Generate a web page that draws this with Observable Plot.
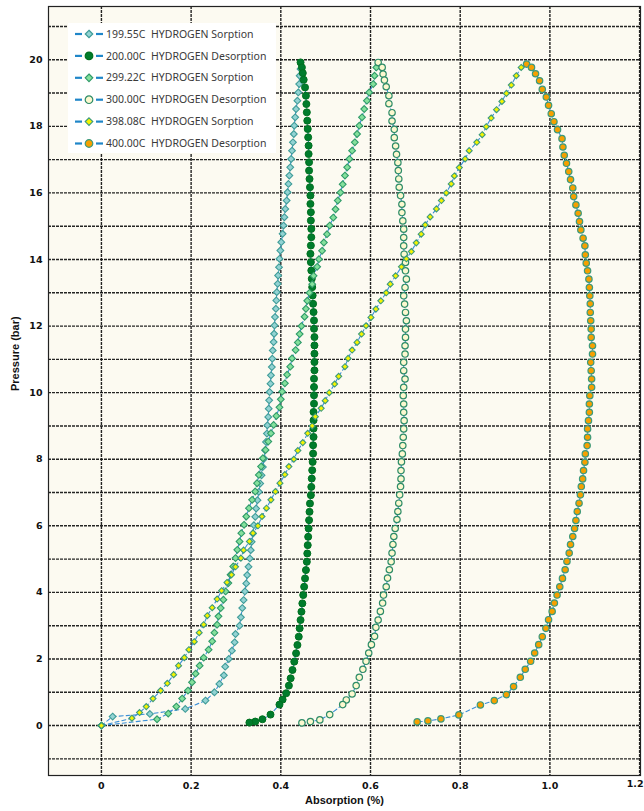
<!DOCTYPE html>
<html>
<head>
<meta charset="utf-8">
<script src="https://cdn.jsdelivr.net/npm/d3@7"></script>
<script src="https://cdn.jsdelivr.net/npm/@observablehq/plot@0.6"></script>
<style>
  html, body { margin: 0; padding: 0; background: #ffffff; }
  #chart { width: 644px; height: 811px; }
</style>
</head>
<body>
<div id="chart"></div>
<script>
// ---------- axis ticks ----------
const xTicks = [0, 0.2, 0.4, 0.6, 0.8, 1.0, 1.2];
const xTickLabels = ["0", "0.2", "0.4", "0.6", "0.8", "1.0", "1.2"];
const yTicks = [0, 2, 4, 6, 8, 10, 12, 14, 16, 18, 20];
const yGrid = [-1, 0, 1, 2, 3, 4, 5, 6, 7, 8, 9, 10, 11, 12, 13, 14, 15, 16, 17, 18, 19, 20, 21];
const xLabel = "Absorption (%)";
const yLabel = "Pressure (bar)";

// ---------- series names ----------
const seriesNames = [
  "199.55C  HYDROGEN Sorption",
  "200.00C  HYDROGEN Desorption",
  "299.22C  HYDROGEN Sorption",
  "300.00C  HYDROGEN Desorption",
  "398.08C  HYDROGEN Sorption",
  "400.00C  HYDROGEN Desorption"
];
const legendTemps = ["199.55C", "200.00C", "299.22C", "300.00C", "398.08C", "400.00C"];
const legendKinds = ["HYDROGEN Sorption", "HYDROGEN Desorption", "HYDROGEN Sorption", "HYDROGEN Desorption", "HYDROGEN Sorption", "HYDROGEN Desorption"];

// ---------- data: [absorption %, pressure bar] ----------
const sorp199 = [[0,0],[0.025,0.27],[0.108,0.35],[0.187,0.5],[0.232,0.75],[0.252,1.0],[0.263,1.25],[0.273,1.51],[0.276,1.77],[0.284,2.0],[0.291,2.25],[0.297,2.5],[0.299,2.75],[0.308,3.0],[0.311,3.25],[0.314,3.53],[0.317,3.77],[0.32,4.03],[0.323,4.27],[0.325,4.52],[0.328,4.77],[0.331,5.02],[0.333,5.27],[0.335,5.52],[0.338,5.77],[0.340,6.02],[0.343,6.27],[0.345,6.52],[0.348,6.77],[0.351,7.02],[0.354,7.27],[0.357,7.52],[0.360,7.77],[0.363,8.02],[0.365,8.27],[0.367,8.52],[0.369,8.77],[0.370,9.02],[0.372,9.27],[0.373,9.52],[0.374,9.77],[0.375,10.02],[0.377,10.27],[0.378,10.52],[0.380,10.77],[0.381,11.02],[0.382,11.27],[0.384,11.52],[0.385,11.77],[0.386,12.02],[0.387,12.27],[0.389,12.52],[0.390,12.77],[0.391,13.02],[0.393,13.27],[0.394,13.52],[0.396,13.77],[0.397,14.02],[0.399,14.27],[0.401,14.52],[0.404,14.77],[0.406,15.02],[0.408,15.27],[0.410,15.52],[0.413,15.77],[0.415,16.02],[0.417,16.27],[0.419,16.52],[0.421,16.77],[0.423,17.02],[0.425,17.27],[0.427,17.52],[0.429,17.77],[0.430,18.02],[0.432,18.27],[0.434,18.52],[0.437,18.77],[0.439,19.02],[0.441,19.27],[0.442,19.52],[0.444,19.72]];

const desorp200 = [[0.444,19.92],[0.447,19.77],[0.449,19.6],[0.451,19.4],[0.454,19.17],[0.456,18.92],[0.457,18.67],[0.458,18.42],[0.459,18.17],[0.460,17.92],[0.461,17.67],[0.462,17.42],[0.462,17.17],[0.463,16.92],[0.463,16.67],[0.464,16.42],[0.465,16.17],[0.466,15.92],[0.466,15.67],[0.467,15.42],[0.467,15.17],[0.468,14.92],[0.468,14.67],[0.467,14.42],[0.466,14.17],[0.467,13.92],[0.468,13.67],[0.469,13.42],[0.470,13.17],[0.471,12.92],[0.472,12.67],[0.473,12.42],[0.474,12.17],[0.474,11.92],[0.475,11.67],[0.475,11.42],[0.475,11.17],[0.475,10.92],[0.475,10.67],[0.474,10.42],[0.474,10.17],[0.474,9.92],[0.474,9.67],[0.473,9.42],[0.473,9.17],[0.473,8.92],[0.473,8.67],[0.472,8.42],[0.472,8.17],[0.471,7.92],[0.470,7.67],[0.469,7.42],[0.468,7.17],[0.467,6.92],[0.465,6.67],[0.464,6.42],[0.463,6.17],[0.462,5.92],[0.461,5.67],[0.460,5.42],[0.459,5.17],[0.458,4.92],[0.456,4.67],[0.454,4.42],[0.452,4.17],[0.450,3.92],[0.448,3.67],[0.446,3.42],[0.444,3.17],[0.442,2.92],[0.440,2.67],[0.437,2.42],[0.434,2.17],[0.430,1.92],[0.426,1.67],[0.422,1.42],[0.418,1.2],[0.412,0.97],[0.404,0.78],[0.397,0.63],[0.377,0.33],[0.359,0.19],[0.343,0.12],[0.330,0.09]];

const sorp299 = [[0,0],[0.124,0.19],[0.149,0.36],[0.167,0.57],[0.180,0.81],[0.193,1.05],[0.202,1.30],[0.210,1.56],[0.219,1.80],[0.228,2.04],[0.239,2.28],[0.247,2.53],[0.252,2.79],[0.258,3.03],[0.261,3.28],[0.266,3.53],[0.272,3.78],[0.277,4.03],[0.283,4.28],[0.288,4.53],[0.294,4.78],[0.299,5.03],[0.303,5.28],[0.308,5.53],[0.312,5.78],[0.318,6.03],[0.323,6.28],[0.329,6.53],[0.336,6.78],[0.343,7.03],[0.347,7.28],[0.351,7.53],[0.356,7.78],[0.360,8.03],[0.366,8.28],[0.372,8.53],[0.378,8.78],[0.384,9.03],[0.390,9.30],[0.397,9.56],[0.400,9.80],[0.403,10.03],[0.409,10.28],[0.414,10.54],[0.421,10.78],[0.425,11.03],[0.433,11.28],[0.438,11.51],[0.442,11.76],[0.446,12.00],[0.453,12.28],[0.456,12.52],[0.459,12.76],[0.464,13.00],[0.470,13.26],[0.473,13.51],[0.481,13.78],[0.485,14.01],[0.492,14.26],[0.496,14.51],[0.503,14.76],[0.509,15.02],[0.517,15.26],[0.522,15.51],[0.527,15.77],[0.533,16.01],[0.538,16.26],[0.543,16.52],[0.548,16.77],[0.553,17.02],[0.559,17.27],[0.565,17.52],[0.570,17.77],[0.575,18.02],[0.581,18.27],[0.586,18.52],[0.592,18.77],[0.597,19.02],[0.606,19.27],[0.609,19.52],[0.613,19.77]];

const desorp300 = [[0.617,19.92],[0.626,19.77],[0.628,19.57],[0.631,19.39],[0.635,19.19],[0.641,18.92],[0.641,18.68],[0.648,18.41],[0.648,18.16],[0.653,17.91],[0.653,17.66],[0.656,17.41],[0.658,17.16],[0.661,16.91],[0.662,16.67],[0.663,16.42],[0.664,16.17],[0.667,15.92],[0.670,15.66],[0.670,15.41],[0.672,15.16],[0.674,14.91],[0.674,14.66],[0.674,14.41],[0.675,14.16],[0.678,13.91],[0.678,13.66],[0.680,13.41],[0.677,13.16],[0.674,12.91],[0.676,12.66],[0.678,12.41],[0.680,12.16],[0.678,11.91],[0.678,11.66],[0.677,11.41],[0.677,11.16],[0.674,10.91],[0.674,10.66],[0.677,10.41],[0.674,10.16],[0.673,9.91],[0.674,9.66],[0.674,9.41],[0.675,9.16],[0.674,8.91],[0.673,8.66],[0.672,8.41],[0.671,8.16],[0.669,7.92],[0.668,7.66],[0.668,7.41],[0.667,7.18],[0.665,6.93],[0.663,6.68],[0.661,6.43],[0.659,6.19],[0.655,5.92],[0.652,5.68],[0.650,5.44],[0.648,5.18],[0.646,4.92],[0.642,4.68],[0.638,4.43],[0.635,4.17],[0.629,3.92],[0.627,3.68],[0.622,3.43],[0.617,3.17],[0.612,2.95],[0.609,2.68],[0.602,2.43],[0.596,2.18],[0.590,1.93],[0.583,1.69],[0.575,1.45],[0.568,1.20],[0.559,0.95],[0.546,0.77],[0.538,0.63],[0.509,0.33],[0.487,0.17],[0.466,0.12],[0.447,0.08]];

const sorp398 = [[0,0],[0.068,0.22],[0.085,0.39],[0.100,0.57],[0.115,0.81],[0.132,1.05],[0.147,1.27],[0.161,1.53],[0.172,1.80],[0.185,2.04],[0.195,2.28],[0.207,2.52],[0.218,2.79],[0.228,3.03],[0.236,3.30],[0.247,3.54],[0.258,3.80],[0.268,4.05],[0.280,4.30],[0.290,4.53],[0.299,4.77],[0.311,5.03],[0.317,5.27],[0.330,5.53],[0.338,5.78],[0.349,6.00],[0.358,6.28],[0.368,6.53],[0.378,6.78],[0.388,7.03],[0.398,7.28],[0.409,7.54],[0.418,7.78],[0.429,8.00],[0.438,8.26],[0.449,8.50],[0.460,8.78],[0.470,9.00],[0.477,9.28],[0.490,9.53],[0.499,9.76],[0.508,10.00],[0.520,10.26],[0.529,10.49],[0.543,10.78],[0.550,11.03],[0.559,11.28],[0.570,11.51],[0.580,11.76],[0.590,12.01],[0.601,12.26],[0.612,12.51],[0.623,12.76],[0.635,13.00],[0.644,13.26],[0.656,13.51],[0.669,13.78],[0.680,14.02],[0.691,14.24],[0.702,14.50],[0.713,14.76],[0.722,15.04],[0.733,15.28],[0.747,15.52],[0.758,15.77],[0.769,16.00],[0.780,16.27],[0.787,16.51],[0.798,16.76],[0.811,17.02],[0.820,17.27],[0.837,17.52],[0.849,17.75],[0.858,17.99],[0.869,18.25],[0.881,18.50],[0.893,18.75],[0.903,18.99],[0.914,19.24],[0.925,19.52],[0.936,19.77]];

const desorp400 = [[0.948,19.87],[0.959,19.77],[0.968,19.58],[0.977,19.37],[0.983,19.11],[0.992,18.88],[0.997,18.63],[1.003,18.38],[1.009,18.14],[1.017,17.90],[1.027,17.63],[1.029,17.38],[1.032,17.13],[1.037,16.89],[1.042,16.64],[1.046,16.40],[1.051,16.15],[1.053,15.89],[1.058,15.64],[1.063,15.39],[1.066,15.14],[1.069,14.89],[1.074,14.64],[1.078,14.41],[1.079,14.14],[1.081,13.89],[1.084,13.66],[1.087,13.41],[1.088,13.16],[1.089,12.91],[1.090,12.67],[1.090,12.41],[1.091,12.16],[1.092,11.91],[1.092,11.66],[1.095,11.41],[1.095,11.16],[1.091,10.91],[1.092,10.66],[1.093,10.41],[1.093,10.16],[1.089,9.91],[1.088,9.66],[1.088,9.41],[1.086,9.16],[1.084,8.91],[1.084,8.66],[1.083,8.41],[1.079,8.16],[1.078,7.91],[1.075,7.66],[1.073,7.41],[1.070,7.18],[1.068,6.93],[1.065,6.68],[1.061,6.43],[1.058,6.16],[1.055,5.92],[1.051,5.68],[1.046,5.44],[1.043,5.18],[1.038,4.93],[1.034,4.68],[1.028,4.42],[1.022,4.17],[1.016,3.92],[1.010,3.68],[1.005,3.43],[0.997,3.18],[0.991,2.92],[0.983,2.67],[0.975,2.43],[0.966,2.18],[0.957,1.93],[0.945,1.69],[0.934,1.45],[0.919,1.17],[0.903,0.93],[0.876,0.75],[0.845,0.62],[0.797,0.32],[0.757,0.20],[0.728,0.14],[0.704,0.11]];

const seriesData = [sorp199, desorp200, sorp299, desorp300, sorp398, desorp400];

// ---------- styles (separate from data) ----------
const diamondSym = {
  draw(ctx, size) {
    const h = Math.sqrt(size / 2);
    ctx.moveTo(0, -h); ctx.lineTo(h, 0); ctx.lineTo(0, h); ctx.lineTo(-h, 0); ctx.closePath();
  }
};
const styles = [
  {symbol: diamondSym, r: 2.7, fill: "#93d3d3", stroke: "#3f9c98", sw: 1.1},
  {symbol: "circle",   r: 3.5, fill: "#007c2c", stroke: "#00701f", sw: 1.0},
  {symbol: diamondSym, r: 2.7, fill: "#84e09c", stroke: "#2f9a68", sw: 1.1},
  {symbol: "circle",   r: 3.2, fill: "#fcf8cf", stroke: "#2e8c68", sw: 1.2},
  {symbol: diamondSym, r: 2.4, fill: "#f4f400", stroke: "#3c9a7c", sw: 1.1},
  {symbol: "circle",   r: 3.2, fill: "#f5a000", stroke: "#3d9a7c", sw: 1.2}
];

const rows = seriesData.flatMap((s, k) => s.map(([a, p]) => ({series: seriesNames[k], a, p})));

const gridStyle = {stroke: "#111", strokeWidth: 1.4, strokeDasharray: "3,1", strokeOpacity: 0.92};
const tickFont = {fontFamily: "DejaVu Sans", fontWeight: "bold", fontSize: 9.5, fill: "#111"};
const innerTicks = xTicks.slice(0, -1);
const lastTick = xTicks.slice(-1);

const marks = [
  Plot.frame({fill: "#fcfaf1", stroke: null}),
  Plot.ruleX(xTicks, {x: d => d, ...gridStyle}),
  Plot.ruleY(yGrid, {y: d => d, ...gridStyle}),
  Plot.line(rows, {x: "a", y: "p", z: "series", stroke: "#3b8fd6", strokeWidth: 1.1, strokeDasharray: "4,3"})
];
seriesData.forEach((s, k) => {
  const st = styles[k];
  marks.push(Plot.dot(rows.filter(d => d.series === seriesNames[k]), {
    x: "a", y: "p", symbol: () => st.symbol, r: st.r, fill: st.fill, stroke: st.stroke, strokeWidth: st.sw
  }));
});
marks.push(
  Plot.frame({stroke: "#222", strokeWidth: 1.2}),
  Plot.axisX(innerTicks, {tickSize: 0, tickPadding: 7, tickFormat: d => xTickLabels[xTicks.indexOf(d)], label: null, ...tickFont}),
  Plot.text(lastTick, {x: d => d, text: d => xTickLabels[xTicks.indexOf(d)], frameAnchor: "bottom", dy: 11, dx: 4, textAnchor: "end", ...tickFont}),
  Plot.axisY(yTicks, {tickSize: 0, tickPadding: 6, label: null, ...tickFont}),
  Plot.text([xLabel], {text: d => d, frameAnchor: "bottom", dy: 28, fontFamily: "Liberation Sans", fontWeight: "bold", fontSize: 11, fill: "#111"}),
  Plot.text([yLabel], {text: d => d, frameAnchor: "left", dx: -33, rotate: -90, fontFamily: "Liberation Sans", fontWeight: "bold", fontSize: 11, fill: "#111"})
);

const svg = Plot.plot({
  width: 644,
  height: 811,
  marginLeft: 48,
  marginRight: 4,
  marginTop: 6,
  marginBottom: 36,
  x: {domain: [-0.118, 1.202]},
  y: {domain: [-1.5, 21.6]},
  style: {background: "#ffffff", fontFamily: "DejaVu Sans"},
  marks
});

// ---------- legend ----------
const g = d3.select(svg).append("g").attr("class", "legend").attr("text-anchor", "start");
g.append("rect").attr("x", 68).attr("y", 23).attr("width", 208).attr("height", 130).attr("fill", "#ffffff");
legendTemps.forEach((t, i) => {
  const y = 34 + i * 21.9;
  const st = styles[i];
  g.append("line").attr("x1", 75).attr("x2", 82).attr("y1", y).attr("y2", y).attr("stroke", "#1f86c8").attr("stroke-width", 2.2);
  g.append("line").attr("x1", 96).attr("x2", 103).attr("y1", y).attr("y2", y).attr("stroke", "#1f86c8").attr("stroke-width", 2.2);
  const rr = st.symbol === "circle" ? 3.8 : 3.0;
  const sym = st.symbol === "circle" ? d3.symbolCircle : st.symbol;
  g.append("path").attr("d", d3.symbol(sym, Math.PI * rr * rr)()).attr("transform", `translate(89,${y})`)
    .attr("fill", st.fill).attr("stroke", st.stroke).attr("stroke-width", 1.2);
  g.append("text").attr("x", 106).attr("y", y).attr("dy", "0.35em").attr("text-anchor", "start").attr("font-family", "Noto Sans")
    .attr("font-size", 10.5).attr("fill", "#3a3a3a").text(t);
  g.append("text").attr("x", 151).attr("y", y).attr("dy", "0.35em").attr("text-anchor", "start").attr("font-family", "Noto Sans")
    .attr("font-size", 10.5).attr("fill", "#3a3a3a").text(legendKinds[i]);
});

document.getElementById("chart").appendChild(svg);
</script>
</body>
</html>
